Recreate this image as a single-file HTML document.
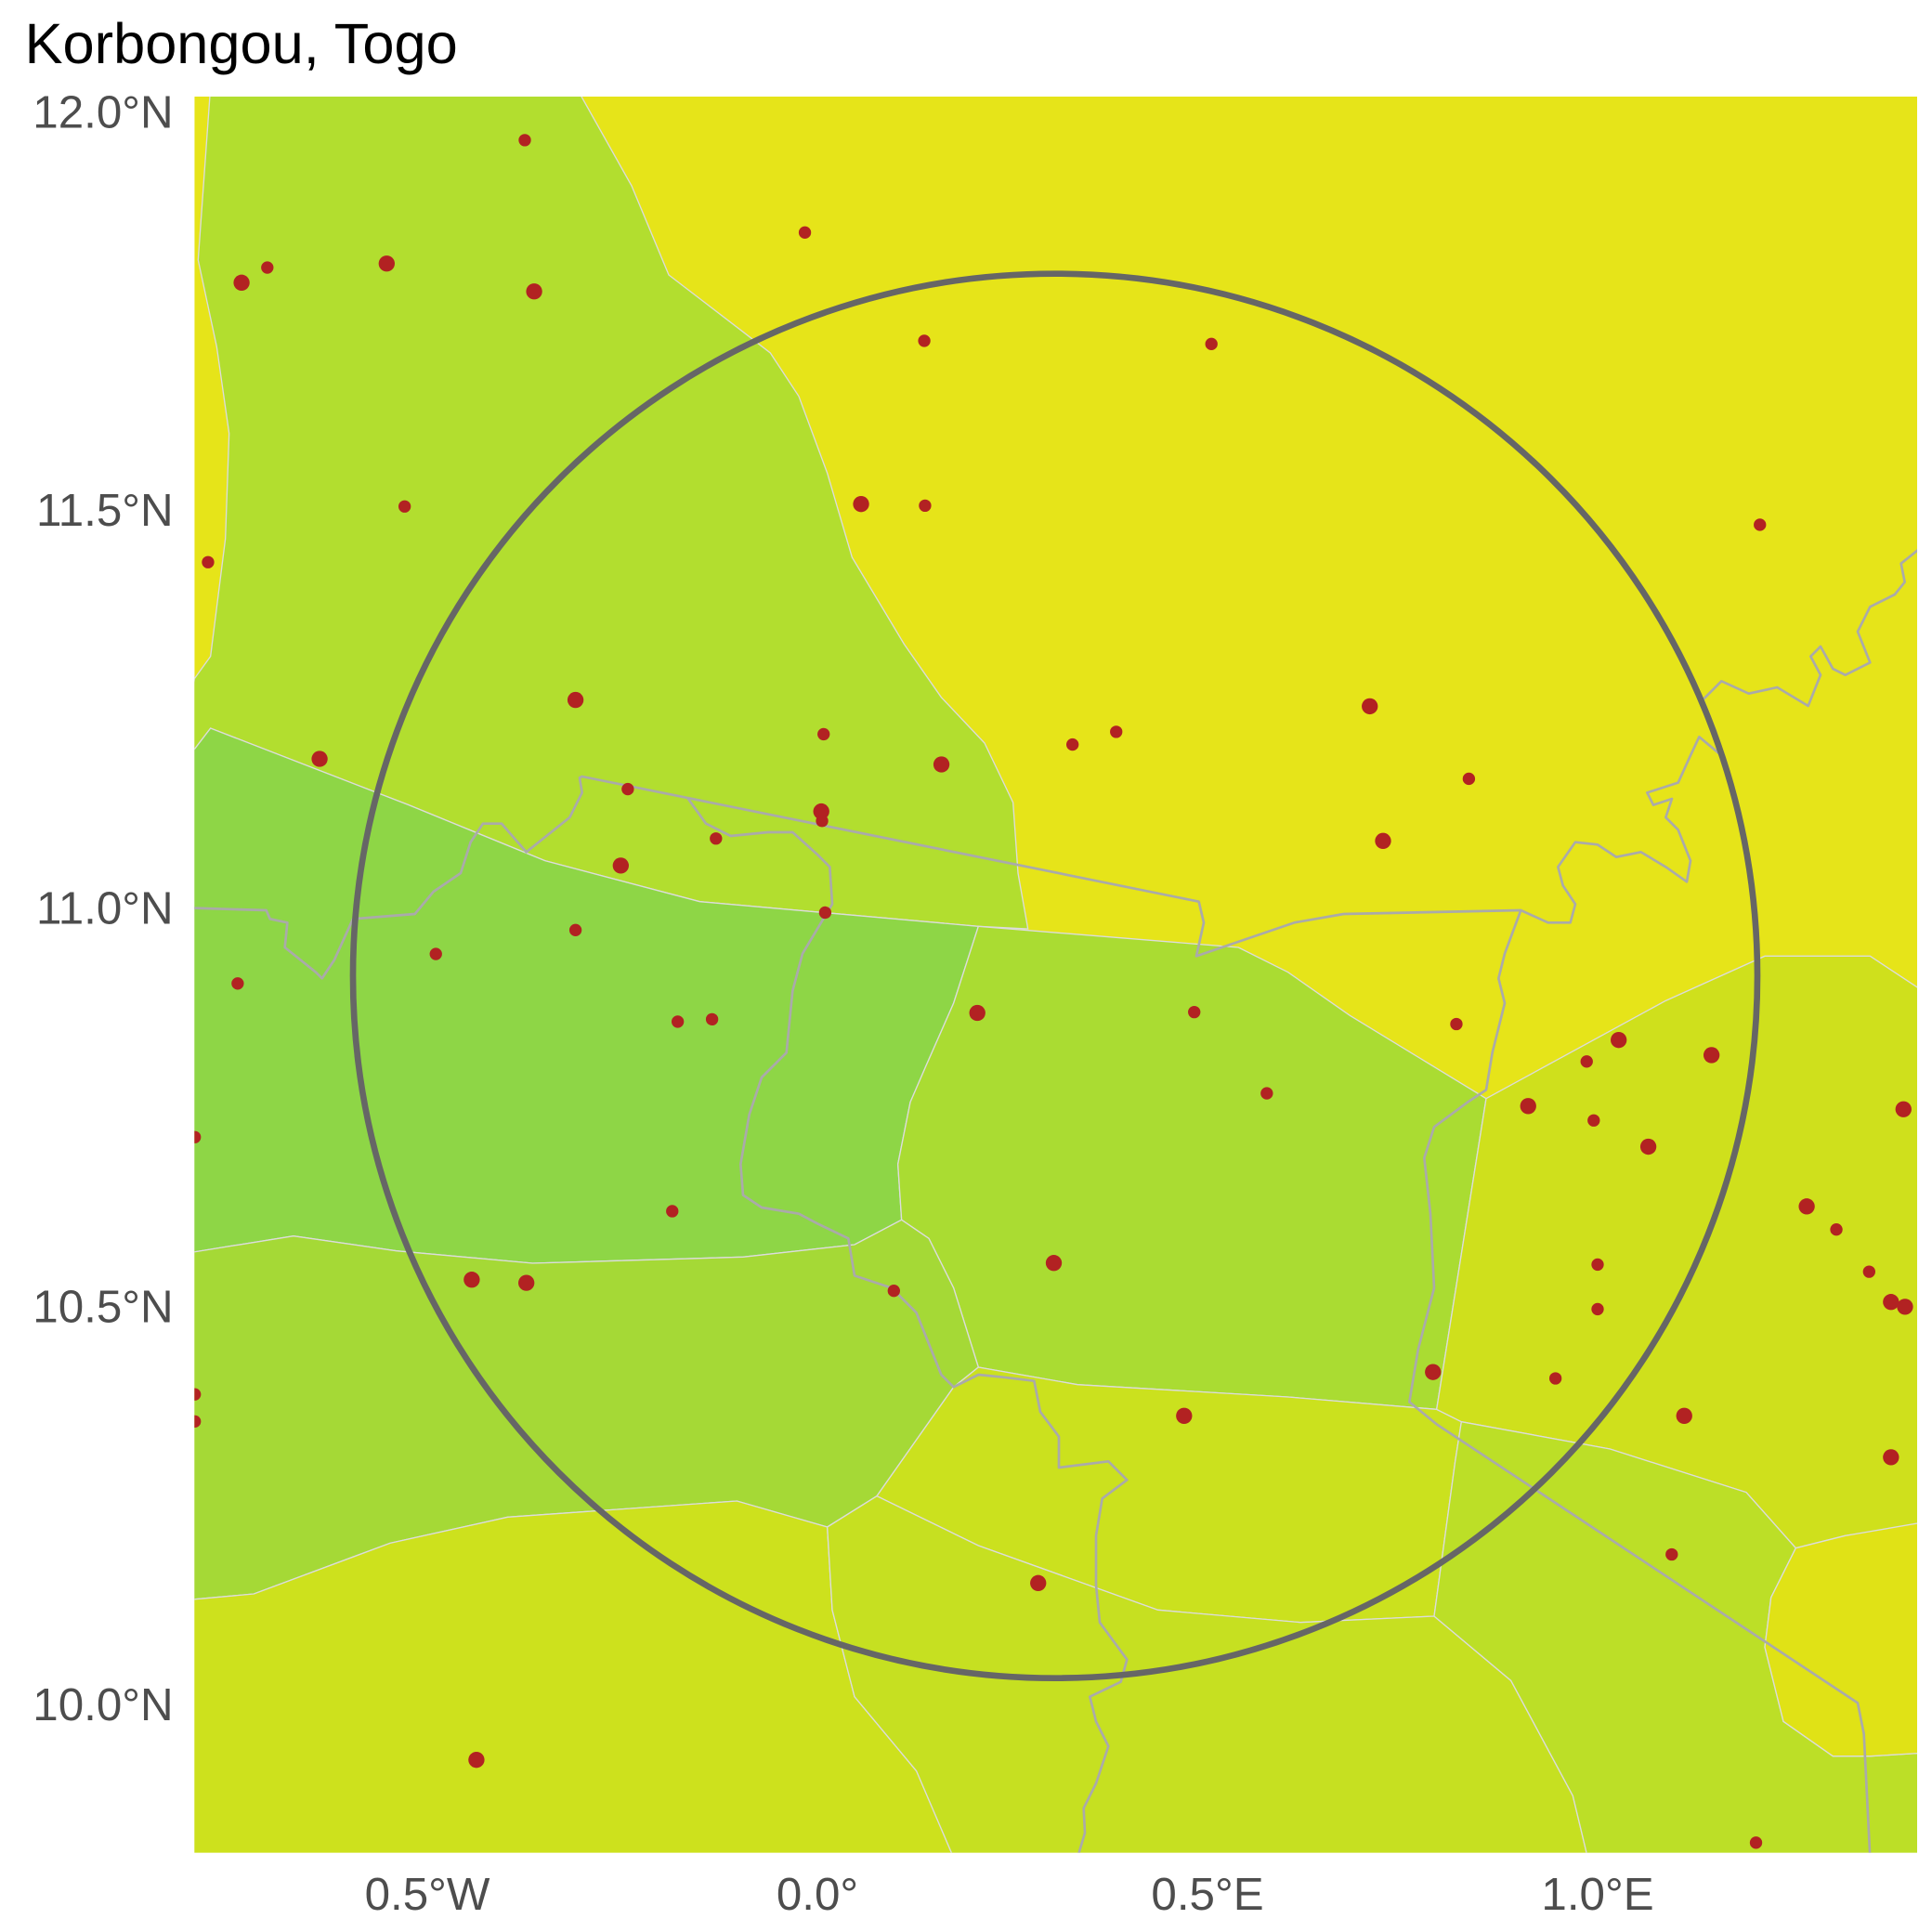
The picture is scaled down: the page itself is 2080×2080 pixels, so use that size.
<!DOCTYPE html>
<html><head><meta charset="utf-8"><style>
html,body{margin:0;padding:0;background:#fff}
svg{display:block}
text{font-family:"Liberation Sans",Arial,sans-serif}
</style></head><body>
<svg id="chart" width="2080" height="2080" viewBox="0 0 1560 1560" xmlns="http://www.w3.org/2000/svg">
<defs><clipPath id="pc"><rect x="157" y="78" width="1391" height="1418"/></clipPath></defs>
<text x="20" y="51" font-size="46" fill="#000">Korbongou, Togo</text>
<g clip-path="url(#pc)">
<rect x="157" y="78" width="1391" height="1418" fill="#e6e419"/>
<polygon fill="#b2de2f" stroke="#dcdcdc" stroke-width="1" points="170,70 465,70 510,150 540,222 600,268 622,285 645,320 668,382 688,450 730,520 760,563 795,600 818,648 822,705 830,750 790,748 565,728 440,695 330,650 170,588 157,605 150,605 157,548 170,530 182,435 185,350 175,280 160,210"/>
<polygon fill="#8ed646" stroke="#dcdcdc" stroke-width="1" points="150,610 157,605 170,588 330,650 440,695 565,728 790,748 770,810 748,860 735,890 725,940 728,985 690,1005 600,1015 430,1020 320,1010 237,998 150,1012"/>
<polygon fill="#aadc32" stroke="#dcdcdc" stroke-width="1" points="790,748 1000,765 1040,785 1090,820 1200,887 1160,1138 1040,1128 870,1118 790,1104 770,1040 750,1000 728,985 725,940 735,890 748,860 770,810"/>
<polygon fill="#a5d936" stroke="#dcdcdc" stroke-width="1" points="150,1012 237,998 320,1010 430,1020 600,1015 690,1005 728,985 750,1000 770,1040 790,1104 770,1120 708,1208 668,1233 595,1212 410,1225 315,1246 205,1287 150,1292"/>
<polygon fill="#cde11d" stroke="#dcdcdc" stroke-width="1" points="150,1292 205,1287 315,1246 410,1225 595,1212 668,1233 672,1300 690,1370 740,1430 770,1500 150,1500"/>
<polygon fill="#cbe11e" stroke="#dcdcdc" stroke-width="1" points="708,1208 770,1120 790,1104 870,1118 1040,1128 1160,1138 1180,1148 1175,1180 1158,1305 1050,1310 935,1300 790,1248"/>
<polygon fill="#c6e021" stroke="#dcdcdc" stroke-width="1" points="668,1233 708,1208 790,1248 935,1300 1050,1310 1158,1305 1220,1357 1270,1450 1282,1500 770,1500 740,1430 690,1370 672,1300"/>
<polygon fill="#cfe01c" stroke="#dcdcdc" stroke-width="1" points="1200,887 1345,808 1425,772 1510,772 1560,805 1560,1230 1490,1240 1450,1250 1410,1205 1300,1170 1180,1148 1160,1138"/>
<polygon fill="#bcdf27" stroke="#dcdcdc" stroke-width="1" points="1180,1148 1300,1170 1410,1205 1450,1250 1430,1290 1425,1330 1440,1390 1480,1418 1510,1418 1560,1415 1560,1500 1282,1500 1270,1450 1220,1357 1158,1305 1175,1180"/>
<polygon fill="#e0e216" stroke="#dcdcdc" stroke-width="1" points="1450,1250 1490,1240 1560,1228 1560,1415 1510,1418 1480,1418 1440,1390 1425,1330 1430,1290"/>
<g fill="none" stroke="#aaaaaa" stroke-width="2" stroke-linejoin="round">
<polyline points="150,733 215,735 218,742 232,745 230,765 255,785 260,790 270,775 285,742 335,738 350,720 372,705 380,680 390,665 405,665 425,688 460,660 470,640 468,628 470,627 968,728 972,745 966,772 1045,745 1085,738 1228,735 1215,770 1210,790 1215,810 1210,830 1205,850 1200,880 1185,890 1158,910 1150,935 1155,980 1158,1040 1145,1090 1138,1132 1160,1150 1500,1375 1505,1400 1510,1500"/>
<polyline points="1228,735 1250,745 1268,745 1272,730 1262,715 1258,700 1272,680 1290,682 1305,692 1325,688 1345,700 1362,712 1365,695 1355,670 1345,660 1350,645 1335,650 1330,640 1355,632 1365,610 1372,595 1390,610 1385,590 1375,565 1390,550 1412,560 1435,555 1460,570 1470,545 1462,530 1470,522 1480,540 1490,545 1510,535 1500,510 1510,490 1530,480 1538,470 1535,455 1550,443"/>
<polyline points="555,644 570,665 590,675 620,672 640,672 660,690 670,700 672,730 660,750 648,770 640,800 635,850 615,870 605,900 598,940 600,965 615,975 645,980 660,988 685,1000 690,1030 720,1040 740,1060 760,1110 770,1120 790,1110 810,1112 835,1115 840,1140 855,1160 855,1185 895,1180 910,1195 890,1210 885,1240 885,1280 888,1310 910,1340 905,1358 880,1370 885,1390 895,1410 885,1440 875,1460 876,1480 870,1500"/>
</g>
<g id="points"></g>
<circle cx="852" cy="788" r="567" fill="none" stroke="#666666" stroke-width="5"/>
</g>
<g id="axes"></g>
</svg>
<script>
const lons=[-0.375,-0.016,-0.738,-0.705,-0.552,-0.363,0.137,0.505,-0.529,0.056,0.138,-0.781,1.208,-0.310,-0.638,0.008,0.159,0.327,0.383,0.708,0.835,-0.243,0.005,0.006,-0.130,-0.252,0.725,0.010,-0.310,-0.489,-0.743,0.205,0.483,-0.179,-0.135,0.819,1.027,1.146,0.986,0.576,0.911,1.392,0.995,1.065,-0.798,-0.186,1.268,1.306,0.303,1.000,1.348,-0.443,-0.373,0.098,1.376,1.394,1.000,-0.798,-0.798,0.789,0.946,0.470,1.111,1.376,1.095,0.283,-0.437,1.203];
const lats=[11.964,11.848,11.785,11.804,11.809,11.774,11.712,11.708,11.504,11.507,11.505,11.434,11.481,11.261,11.187,11.218,11.180,11.205,11.221,11.253,11.162,11.149,11.121,11.109,11.087,11.053,11.084,10.994,10.972,10.942,10.905,10.868,10.869,10.857,10.860,10.854,10.834,10.815,10.807,10.767,10.751,10.747,10.733,10.700,10.712,10.619,10.625,10.596,10.554,10.552,10.543,10.533,10.529,10.519,10.505,10.499,10.496,10.389,10.355,10.417,10.409,10.362,10.362,10.310,10.188,10.152,9.930,9.826];
const sizes=[0,0,1,0,1,1,0,0,0,1,0,0,0,1,1,0,1,0,0,1,0,0,1,0,0,1,1,0,0,0,0,1,0,0,0,0,1,1,0,0,1,1,0,1,0,0,1,0,1,0,0,1,1,0,1,1,0,0,0,1,0,1,1,1,0,1,1,0];
const xTicks=[-0.5,0,0.5,1.0];
const xTickLabels=["0.5°W","0.0°","0.5°E","1.0°E"];
const yTicks=[12.0,11.5,11.0,10.5,10.0];
const yTickLabels=["12.0°N","11.5°N","11.0°N","10.5°N","10.0°N"];
const NS="http://www.w3.org/2000/svg";
function xs(lon){return 660+630*lon;}
function ys(lat){return 90+(12-lat)*643;}
const pg=document.getElementById('points');
for(let i=0;i<lons.length;i++){
 const c=document.createElementNS(NS,'circle');
 c.setAttribute('cx',xs(lons[i]));c.setAttribute('cy',ys(lats[i]));
 c.setAttribute('r',sizes[i]?6.5:5);c.setAttribute('fill','#b22222');
 
 
 pg.appendChild(c);
}
const ax=document.getElementById('axes');
xTicks.forEach((v,i)=>{
 const t=document.createElementNS(NS,'text');
 t.setAttribute('x',xs(v));t.setAttribute('y',1542);t.setAttribute('text-anchor','middle');
 t.setAttribute('font-size','37');t.setAttribute('fill','#4d4d4d');t.textContent=xTickLabels[i];
 
 
 ax.appendChild(t);
});
yTicks.forEach((v,i)=>{
 const t=document.createElementNS(NS,'text');
 t.setAttribute('x',140);t.setAttribute('y',ys(v)+13);t.setAttribute('text-anchor','end');
 t.setAttribute('font-size','37');t.setAttribute('fill','#4d4d4d');t.textContent=yTickLabels[i];
 
 
 ax.appendChild(t);
});
</script>
</body></html>
